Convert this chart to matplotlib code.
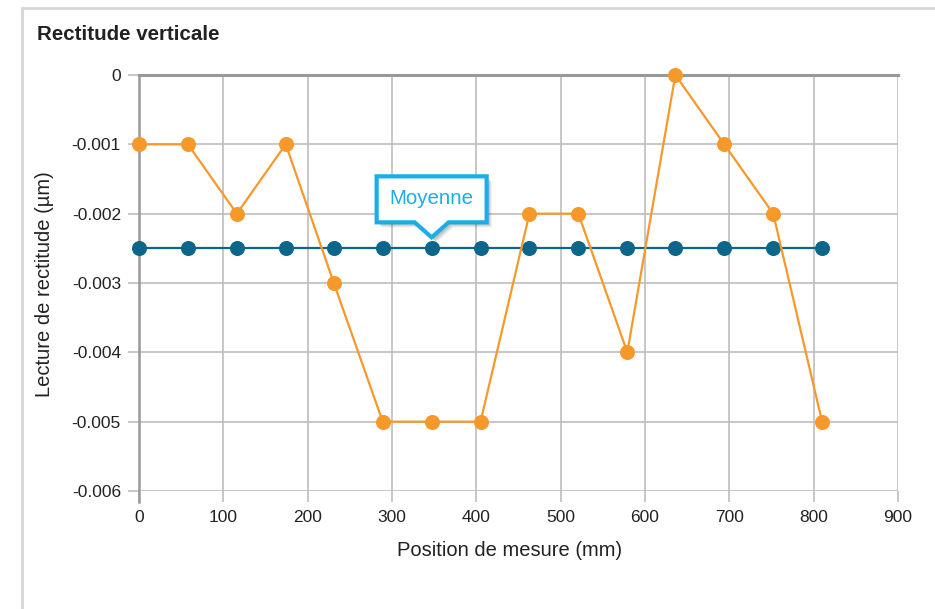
#!/usr/bin/env python3
"""Rectitude verticale: lecture de rectitude le long de la position de mesure."""

import matplotlib
matplotlib.use("Agg")
import matplotlib.pyplot as plt
import matplotlib.transforms as mtransforms
from matplotlib.patches import Polygon, Rectangle

# Data
positions = [0, 58, 116, 174, 231, 289, 347, 405, 463, 521, 579, 636, 694, 752, 810]
readings = [-0.001, -0.001, -0.002, -0.001, -0.003, -0.005, -0.005, -0.005,
            -0.002, -0.002, -0.004, 0.0, -0.001, -0.002, -0.005]
mean_values = [-0.0025] * len(positions)
x_ticks = [0, 100, 200, 300, 400, 500, 600, 700, 800, 900]
y_ticks = [0, -0.001, -0.002, -0.003, -0.004, -0.005, -0.006]
y_tick_labels = ["0", "-0.001", "-0.002", "-0.003", "-0.004", "-0.005", "-0.006"]
callout_index = 6
callout_text = "Moyenne"

ORANGE = "#F7992A"
TEAL = "#0B6689"
CYAN = "#1AAEE8"
GRID = "#bdbdbd"
DARK = "#999999"
TEXT = "#222222"

plt.rcParams["font.family"] = ["Liberation Sans", "DejaVu Sans"]

W, H = 935, 609
fig = plt.figure(figsize=(W / 100, H / 100), dpi=100)
ax = fig.add_axes([139 / W, 1 - 491 / H, (898 - 139) / W, (491 - 75) / H])

# outer frame (only top/left edge visible in the reference)
fig.add_artist(Rectangle((22 / W, -0.1), 1.2, 1.1 - 8 / H, transform=fig.transFigure,
                         fill=False, edgecolor="#d6d6d6", lw=2))

ax.set_xlim(0, 900)
ax.set_ylim(-0.006, 0)
ax.set_xticks(x_ticks)
ax.set_yticks(y_ticks)
ax.set_yticklabels(y_tick_labels)
ax.grid(True, color=GRID, lw=1.2)
ax.set_axisbelow(True)
ax.tick_params(axis="both", length=8, width=1.2, color=GRID, labelsize=12.5,
               labelcolor=TEXT)
ax.tick_params(axis="x", pad=6)
ax.tick_params(axis="y", pad=5)
for side in ("right", "bottom"):
    ax.spines[side].set_visible(False)
ax.spines["top"].set_color(DARK)
ax.spines["top"].set_linewidth(2.2)
ax.spines["left"].set_color(DARK)
ax.spines["left"].set_linewidth(1.8)
ax.spines["left"].set_bounds(-0.00616, 0)
ax.spines["left"].set_zorder(2.6)

ax.plot(positions, mean_values, color=TEAL, lw=1.6, marker="o", ms=9.8,
        zorder=3, clip_on=False)
ax.plot(positions, readings, color=ORANGE, lw=1.6, marker="o", ms=9.8,
        zorder=4, clip_on=False)

# callout "Moyenne" above one point of the mean line (shape in pixels)
anchor = mtransforms.ScaledTranslation(positions[callout_index],
                                       mean_values[callout_index], ax.transData)
px = mtransforms.Affine2D().scale(1 / fig.dpi) + fig.dpi_scale_trans + anchor
bw, top, bot, tip, half = 55, 72, 26, 11, 17
outline = [(-bw, top), (bw, top), (bw, bot), (half, bot), (0, tip),
           (-half, bot), (-bw, bot)]
for k, a in ((5, 0.07), (4, 0.08), (3, 0.1)):
    ax.add_patch(Polygon([(x + k, y - k) for x, y in outline], closed=True,
                         transform=px, facecolor="black", edgecolor="none",
                         alpha=a, zorder=5, clip_on=False))
ax.add_patch(Polygon(outline, closed=True, transform=px, facecolor="white",
                     edgecolor=CYAN, lw=3, joinstyle="miter", zorder=6,
                     clip_on=False))
ax.text(0, (top + bot) / 2 + 1, callout_text, transform=px, ha="center",
        va="center", fontsize=14.8, color=CYAN, zorder=7)

fig.text(37 / W, 1 - 34 / H, "Rectitude verticale", fontsize=14.8,
         fontweight="bold", color=TEXT, ha="left", va="center")
fig.text(510 / W, 1 - 550 / H, "Position de mesure (mm)", fontsize=14.5,
         color=TEXT, ha="center", va="center")
fig.text(45 / W, 1 - 284 / H, "Lecture de rectitude (µm)", fontsize=14.5,
         color=TEXT, ha="center", va="center", rotation=90)

fig.savefig("out.png", dpi=100)
